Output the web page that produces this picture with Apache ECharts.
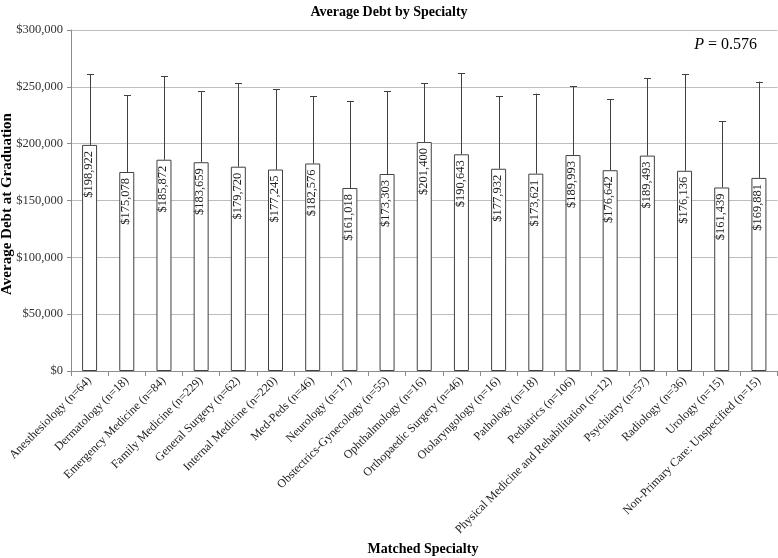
<!DOCTYPE html>
<html>
<head>
<meta charset="utf-8">
<script src="https://cdn.jsdelivr.net/npm/echarts@6/dist/echarts.min.js"></script>
<style>html,body{margin:0;padding:0;background:#fff}#c{width:778px;height:558px}</style>
</head>
<body>
<div id="c"></div>
<script>
var categories = ["Anesthesiology (n=64)","Dermatology (n=18)","Emergency Medicine (n=84)","Family Medicine (n=229)","General Surgery (n=62)","Internal Medicine (n=220)","Med-Peds (n=46)","Neurology (n=17)","Obstectrics-Gynecology (n=55)","Ophthalmology (n=16)","Orthopaedic Surgery (n=46)","Otolaryngology (n=16)","Pathology (n=18)","Pediatrics (n=106)","Physical Medicine and Rehabilitation (n=12)","Psychiatry (n=57)","Radiology (n=36)","Urology (n=15)","Non-Primary Care: Unspecified (n=15)"];
var means = [198922,175078,185872,183659,179720,177245,182576,161018,173303,201400,190643,177932,173621,189993,176642,189493,176136,161439,169881];
var errorTops = [261300,242550,259270,246330,253370,247800,241640,237540,246330,253370,261880,241640,243990,250730,239000,257770,261300,219650,254540];
var yTicks = [0,50000,100000,150000,200000,250000,300000];

var serif = '"Liberation Serif","Times New Roman",serif';
function money(v){return '$' + v.toString().replace(/\B(?=(\d{3})+(?!\d))/g, ',');}

var chart = echarts.init(document.getElementById('c'), null, {renderer:'canvas'});
chart.setOption({
  animation:false,
  textStyle:{fontFamily:serif},
  title:{text:'Average Debt by Specialty',left:'center',top:0,textStyle:{fontFamily:serif,fontSize:14,fontWeight:'bold',color:'#000'}},
  grid:{left:71,right:0.5,top:30,bottom:187,containLabel:false,outerBoundsMode:'none'},
  xAxis:{
    type:'category',data:categories,
    axisLine:{lineStyle:{color:'#8c8c8c'}},
    axisTick:{show:true,alignWithLabel:false,length:5,lineStyle:{color:'#8c8c8c'}},
    axisLabel:{rotate:45,interval:0,fontFamily:serif,fontSize:12,color:'#222',margin:8}
  },
  yAxis:{
    type:'value',min:yTicks[0],max:yTicks[yTicks.length-1],interval:50000,
    axisLine:{show:true,lineStyle:{color:'#8c8c8c'}},
    axisTick:{show:true,length:4,lineStyle:{color:'#8c8c8c'}},
    splitLine:{lineStyle:{color:'#bdbdbd'}},
    axisLabel:{fontFamily:serif,fontSize:12.5,color:'#333',margin:8,formatter:function(v){return money(v);}}
  },
  graphic:[{
    type:'text',right:21,top:37,
    style:{text:'{i|P} = 0.576',rich:{i:{fontStyle:'italic',fontFamily:serif,fontSize:16,fill:'#000'}},fontFamily:serif,fontSize:16,fill:'#000'}
  },{
    type:'text',x:7,y:204,rotation:Math.PI/2,
    style:{text:'Average Debt at Graduation',font:'bold 15px '+serif,fill:'#000',align:'center',verticalAlign:'middle'}
  },{
    type:'text',x:423,y:549,
    style:{text:'Matched Specialty',font:'bold 14px '+serif,fill:'#000',align:'center',verticalAlign:'middle'}
  }],
  series:[{
    type:'bar',data:means,barWidth:15,
    itemStyle:{color:'#fff',borderColor:'#404040',borderWidth:1},
    label:{show:true,position:'insideTop',rotate:90,align:'right',verticalAlign:'middle',offset:[0,-1],distance:6,
      fontFamily:serif,fontSize:12.5,color:'#222',formatter:function(p){return money(p.value);}}
  },{
    type:'custom',
    data:means.map(function(m,i){return [i,m,errorTops[i]];}),
    renderItem:function(params,api){
      var p0 = api.coord([api.value(0),api.value(1)]);
      var p1 = api.coord([api.value(0),api.value(2)]);
      var x = Math.round(p0[0])+0.5;
      return {type:'group',children:[
        {type:'line',shape:{x1:x,y1:p0[1],x2:x,y2:p1[1]},style:{stroke:'#404040',lineWidth:1}},
        {type:'line',shape:{x1:x-3.5,y1:Math.round(p1[1])+0.5,x2:x+3.5,y2:Math.round(p1[1])+0.5},style:{stroke:'#404040',lineWidth:1}}
      ]};
    },
    z:3
  }]
});
</script>
</body>
</html>
